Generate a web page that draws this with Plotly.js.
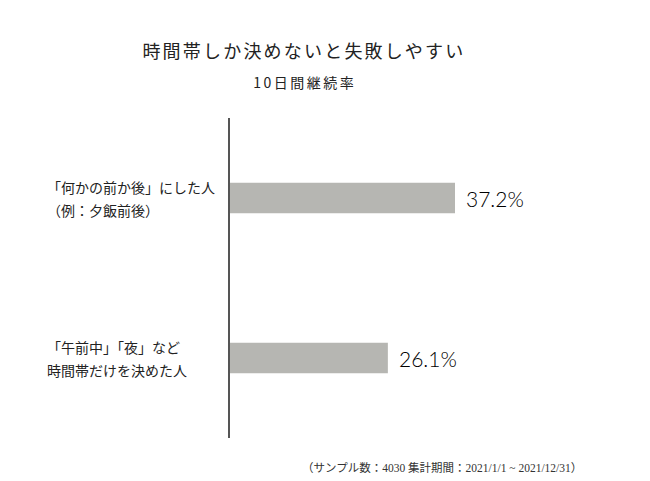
<!DOCTYPE html>
<html>
<head>
<meta charset="utf-8">
<script src="https://cdn.plot.ly/plotly-3.0.1.min.js"></script>
<style>html,body{margin:0;padding:0;background:#fff;}</style>
</head>
<body>
<div id="chart" style="width:650px;height:481px;"></div>
<script>
const categories = ["「何かの前か後」にした人<br>（例：夕飯前後）", "「午前中」「夜」など<br>時間帯だけを決めた人"];
const values = [37.2, 26.1];
const valueLabels = ["37.2%", "26.1%"];
const titleText = "時間帯しか決めないと失敗しやすい";
const subtitleText = "10日間継続率";
const noteText = "（サンプル数：4030 集計期間：2021/1/1 ~ 2021/12/31）";

const cjk = "'Noto Sans CJK JP', 'Noto Sans', sans-serif";
const ys = categories.map((c, i) => i);
const xMax = 58.2;

const annotations = [];
categories.forEach((c, i) => {
  const lines = c.split("<br>");
  lines.forEach((ln, j) => {
    annotations.push({
      xref: "paper", yref: "y", x: -0.525, y: i, xanchor: "left", yanchor: "middle",
      yshift: (lines.length - 1) / 2 * 23 - j * 23,
      text: ln, showarrow: false, align: "left",
      font: {family: cjk, size: 14, color: "#222"}
    });
  });
  annotations.push({
    xref: "x", yref: "y", x: values[i], y: i, xanchor: "left", yanchor: "middle",
    xshift: 9, text: valueLabels[i], showarrow: false,
    font: {family: "Lato, 'Noto Sans', sans-serif", size: 21, color: "#000", weight: 300}
  });
});
annotations.push({
  xref: "paper", yref: "paper", x: (304 - 230) / 352, y: 1, yshift: 68, xanchor: "center", yanchor: "middle",
  text: titleText, showarrow: false, font: {family: cjk, size: 18, color: "#222"}
});
annotations.push({
  xref: "paper", yref: "paper", x: (305 - 230) / 352, y: 1, yshift: 36, xanchor: "center", yanchor: "middle",
  text: subtitleText, showarrow: false, font: {family: cjk, size: 14, color: "#222"}
});
annotations.push({
  xref: "paper", yref: "paper", x: (584 - 230) / 352, y: 0, yshift: -29, xanchor: "right", yanchor: "middle",
  text: noteText, showarrow: false, font: {family: "'Liberation Serif', 'Noto Sans CJK JP', serif", size: 11.5, color: "#333"}
});

Plotly.newPlot("chart", [{
  type: "bar", orientation: "h", x: values, y: ys,
  width: 0.19, marker: {color: "#b6b6b2"}, hoverinfo: "skip"
}], {
  width: 650, height: 481,
  margin: {l: 230, r: 68, t: 118, b: 43},
  paper_bgcolor: "#fff", plot_bgcolor: "#fff",
  showlegend: false,
  xaxis: {range: [0, xMax], visible: false, fixedrange: true},
  yaxis: {range: [1.5, -0.5], showticklabels: false, ticks: "", showgrid: false, zeroline: false,
          showline: true, linecolor: "#555", linewidth: 1.8, fixedrange: true},
  annotations: annotations
}, {displayModeBar: false, staticPlot: true}).then(gd => {
  const texts = gd.querySelectorAll(".annotation-text");
  texts.forEach(t => {
    if (t.textContent === titleText) t.setAttribute("letter-spacing", "2.2px");
    if (t.textContent === subtitleText) t.setAttribute("letter-spacing", "2.5px");
  });
});
</script>
</body>
</html>
